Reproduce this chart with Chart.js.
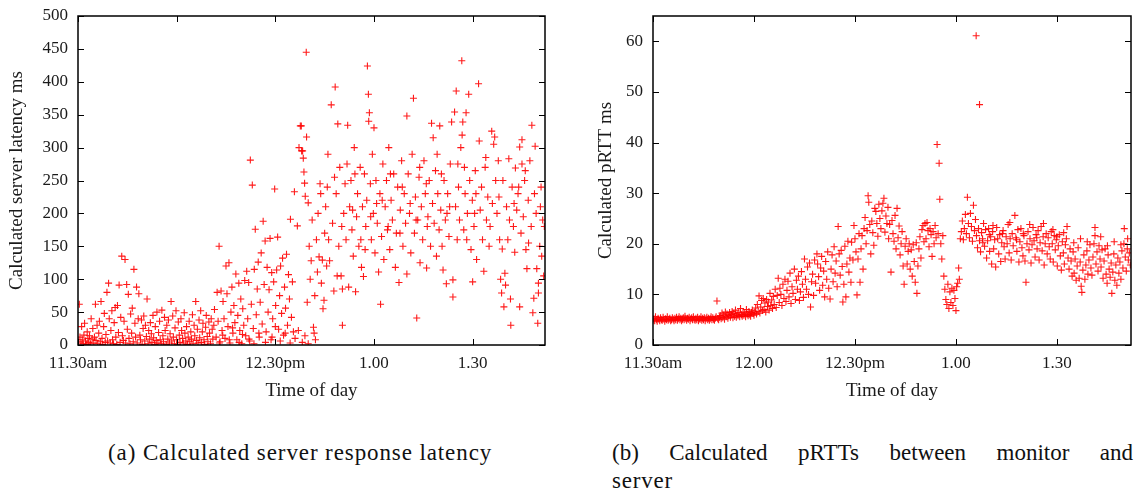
<!DOCTYPE html>
<html>
<head>
<meta charset="utf-8">
<script src="https://cdn.jsdelivr.net/npm/chart.js@4.4.1/dist/chart.umd.min.js"></script>
<style>
  body { margin: 0; background: #fff; width: 1141px; height: 494px; position: relative; overflow: hidden; }
  canvas { position: absolute; top: 0; }
  #leftChart { left: 0; }
  #rightChart { left: 580px; }
  .cap { position: absolute; font-family: "Liberation Serif", serif; font-size: 23px; color: #111; white-space: nowrap; }
  #capA { left: 108px; top: 440px; letter-spacing: 0.9px; }
  #capB1 { left: 612px; top: 440px; width: 521px; text-align: justify; text-align-last: justify; white-space: normal; }
  #capB2 { left: 612px; top: 468px; letter-spacing: 0.8px; }
</style>
</head>
<body>
<canvas id="leftChart" width="560" height="404"></canvas>
<canvas id="rightChart" width="561" height="404"></canvas>
<div class="cap" id="capA">(a) Calculated server response latency</div>
<div class="cap" id="capB1">(b) Calculated pRTTs between monitor and</div>
<div class="cap" id="capB2">server</div>
<script>
// minutes after 11.30am
const timeTickValues = [0, 30, 60, 90, 120];
const timeTickLabels = ['11.30am', '12.00', '12.30pm', '1.00', '1.30'];
const timeMax = 142;

// [minute, latency ms]
const latencyPoints = [
  [0.2,5],[0.4,62],[0.6,12],[0.9,3],[1.1,28],[1.3,8],[1.6,2],[1.8,15],[2.0,33],[2.3,6],[2.5,1],[2.8,20],
  [3.0,10],[3.3,4],[3.5,14],[3.8,2],[4.0,40],[4.3,9],[4.5,25],[4.8,3],[5.0,12],[5.3,62],[5.5,7],[5.8,30],
  [6.0,2],[6.3,18],[6.5,36],[6.8,5],[7.0,66],[7.3,10],[7.5,1],[7.8,28],[8.0,48],[8.3,4],[8.5,16],[8.8,80],
  [9.0,6],[9.3,94],[9.5,40],[9.8,3],[10.0,22],[10.3,52],[10.5,8],[10.8,2],[11.0,34],[11.3,57],[11.5,12],[11.8,1],
  [12.0,60],[12.3,19],[12.5,91],[12.8,4],[13.0,42],[13.3,135],[13.5,14],[13.8,7],[14.0,36],[14.3,130],[14.5,3],[14.8,92],
  [15.0,24],[15.3,77],[15.5,10],[15.8,2],[16.0,47],[16.3,18],[16.5,56],[16.8,5],[17.0,115],[17.3,33],[17.5,12],[17.8,88],
  [18.0,3],[18.3,40],[18.5,78],[18.8,15],[19.0,8],[19.3,38],[19.5,1],[19.8,25],[20.0,44],[20.3,6],[20.5,30],[20.8,13],
  [21.0,70],[21.3,2],[21.5,22],[21.8,9],[22.0,34],[22.3,17],[22.5,4],[22.8,45],[23.0,11],[23.3,1],[23.5,28],[23.8,7],
  [24.0,50],[24.3,3],[24.5,19],[24.8,36],[25.0,8],[25.3,2],[25.5,53],[25.8,14],[26.0,5],[26.3,42],[26.5,22],[26.8,1],
  [27.0,30],[27.3,9],[27.5,38],[27.8,3],[28.0,17],[28.3,66],[28.5,6],[28.8,44],[29.0,12],[29.3,2],[29.5,26],[29.8,52],
  [30.0,8],[30.3,1],[30.5,35],[30.8,15],[31.0,4],[31.3,40],[31.5,22],[31.8,10],[32.0,3],[32.3,49],[32.5,18],[32.8,6],
  [33.0,28],[33.3,1],[33.5,12],[33.8,36],[34.0,5],[34.3,20],[34.5,9],[34.8,46],[35.0,2],[35.3,30],[35.5,14],[35.8,66],
  [36.0,7],[36.3,24],[36.5,3],[36.8,38],[37.0,11],[37.3,52],[37.5,4],[37.8,20],[38.0,33],[38.3,8],[38.5,1],[38.8,27],
  [39.0,45],[39.3,13],[39.5,5],[39.8,35],[40.0,18],[40.3,2],[40.5,40],[40.8,24],[41.0,9],[41.3,30],[41.5,54],
  [42.0,12],[42.3,80],[42.6,36],[42.9,150],[43.2,5],[43.5,82],[43.8,22],[44.1,66],[44.4,40],[44.7,10],[45.0,120],[45.3,78],
  [45.6,28],[45.9,125],[46.2,3],[46.5,50],[46.8,88],[47.1,18],[47.4,60],[47.7,34],[48.0,108],[48.3,8],[48.6,45],[48.9,94],
  [49.2,22],[49.5,70],[49.8,2],[50.1,55],[50.4,30],[50.7,98],[51.0,14],[51.3,112],[51.6,40],[51.9,95],[52.2,6],[52.4,281],
  [52.7,62],[53.0,243],[53.3,25],[53.6,115],[53.9,176],[54.2,46],[54.5,85],[54.8,126],[55.1,12],[55.4,65],[55.7,140],[56.0,32],
  [56.3,188],[56.6,92],[56.9,158],[57.2,20],[57.5,118],[57.8,50],[58.1,84],[58.4,162],[58.7,8],[58.9,110],[59.2,40],[59.5,96],
  [59.8,237],[60.1,60],[60.4,114],[60.7,164],[61.0,24],[61.3,75],[61.6,120],[61.9,48],[62.2,132],[62.5,15],[62.8,88],[63.1,56],
  [63.4,138],[63.7,30],[64.0,107],[64.3,70],[64.6,191],[64.9,42],[65.2,96],[65.5,20],[65.8,233],
  [43.0,3],[44.0,15],[46.0,8],[47.0,26],[49.0,4],[50.0,16],[52.0,9],[53.5,2],[55.0,18],[57.0,4],[59.0,12],[60.0,28],
  [61.5,6],[63.0,18],[64.5,3],[66.0,10],[67.0,22],[68.2,4],[69.0,14],[70.0,2],
  [66.7,181],[67.2,300],[67.6,333],[67.9,333],[68.0,295],[68.3,295],[68.5,284],[68.7,263],[68.9,246],[69.1,226],[69.4,445],[69.5,316],
  [69.7,65],[70.0,216],[70.3,150],[70.6,100],[70.9,128],[71.2,190],[71.6,27],[71.8,18],[72.0,75],[72.2,8],[72.5,160],[72.8,111],
  [73.0,200],[73.3,134],[73.6,245],[74.0,94],[74.3,129],[74.5,55],[74.8,68],[75.0,170],[75.3,210],[75.6,120],[76.0,290],[76.5,128],
  [77.0,365],[77.4,185],[77.8,82],[78.2,392],[78.5,230],[78.8,105],[79.0,336],[79.3,150],[79.6,270],[80.0,105],[80.4,30],[80.4,85],
  [80.8,200],[81.2,245],[81.5,160],[82.0,334],[82.3,88],[82.6,210],[83.0,250],[83.3,175],[83.7,135],[84.0,300],[84.4,81],[84.7,195],
  [85.0,230],[85.4,150],[85.8,270],[86.2,118],[86.5,210],[86.8,104],[87.1,260],[87.5,180],[87.8,220],[88.0,424],[88.3,381],[88.4,340],
  [88.6,353],[88.9,245],[89.2,160],[89.5,290],[89.8,200],[90.0,330],[90.3,140],[90.6,250],[91.0,185],[91.4,111],[91.8,230],[92.0,62],
  [92.3,165],[92.7,275],[93.0,130],[93.4,210],[93.8,250],[94.1,175],[94.5,300],[94.8,145],[95.2,220],[95.6,190],[96.0,260],[96.5,118],
  [96.8,170],[97.2,240],[97.6,95],[98.0,205],[98.4,280],[98.8,150],[99.2,230],[99.6,185],[100.0,348],[100.0,108],[100.4,260],[100.8,200],
  [101.2,140],[101.6,290],[102.0,375],[102.3,170],[102.6,225],[103.0,41],[103.3,190],[103.7,255],[104.0,125],[104.4,210],[104.8,160],[105.2,280],
  [105.6,230],[106.0,117],[106.4,195],[106.8,250],[107.2,150],[107.5,337],[107.8,215],[108.0,315],[108.3,185],[108.7,265],[109.0,135],[109.4,230],
  [109.8,175],[110.0,333],[110.3,205],[110.7,150],[111.0,114],[111.3,250],[111.7,190],[112.0,93],[112.4,230],[112.8,165],[113.2,275],[113.6,339],
  [114.0,73],[114.0,99],[114.5,354],[114.8,210],[115.0,386],[115.3,160],[115.7,240],[116.0,190],[116.4,300],[116.7,432],[116.8,319],[117.0,339],
  [117.3,175],[117.7,230],[118.0,353],[118.4,200],[118.8,381],[119.1,250],[119.5,145],[119.9,220],[120.0,96],[120.4,180],[120.8,265],[121.2,130],
  [121.8,397],[122.0,310],[122.3,205],[122.7,240],[123.0,160],[123.4,112],[123.8,270],[124.2,190],[124.6,225],[125.0,150],[125.8,325],[126.4,305],
  [126.7,316],[127.0,250],[127.4,200],[127.8,280],[128.2,160],[128.5,100],[128.8,79],[129.0,146],[129.5,58],[129.8,109],[130.0,91],[130.3,210],
  [130.7,160],[131.0,283],[131.5,70],[131.6,30],[132.0,240],[132.4,180],[132.8,141],[133.0,269],[133.4,205],[133.8,230],[134.3,58],[134.3,301],
  [134.7,170],[135.0,312],[135.0,275],[135.4,195],[135.8,250],[136.2,145],[136.5,116],[136.9,220],[137.4,280],[137.8,180],[138.0,334],[138.3,49],
  [138.6,71],[139.0,302],[139.3,200],[139.5,116],[139.8,33],[140.0,79],[140.0,94],[140.4,150],[140.8,240],[141.0,135],[141.3,190],[141.6,105],
  [73.8,230],[76.2,160],[78.0,255],[81.8,275],[83.5,205],[86.0,160],[89.0,195],[92.5,220],[95.0,260],[97.9,170],[101.0,215],[103.9,270],
  [106.2,180],[109.2,290],[112.2,200],[115.5,275],[118.2,160],[121.0,230],[124.0,285],[126.0,215],[129.2,250],[132.6,215],[136.0,265],[138.8,230],
  [141.8,180],[75.8,240],[80.2,180],[84.2,260],[87.3,145],[90.8,215],[94.3,180],[98.6,240],[102.8,190],[105.9,245],[110.5,260],[113.0,210],
  [117.5,270],[120.6,200],[125.3,180],[128.0,225],[131.2,190],[134.0,240],[137.0,155],[140.6,210]
];

// [minute, pRTT ms]
const prttPoints = [
  [0.0,4.9],[0.25,5.2],[0.5,4.8],[0.75,5.6],[1.0,5.0],[1.25,4.7],[1.5,5.3],[1.75,5.1],[2.0,4.8],[2.25,5.4],[2.5,5.0],[2.75,4.9],
  [3.0,5.5],[3.25,5.1],[3.5,4.7],[3.75,5.2],[4.0,5.0],[4.25,5.6],[4.5,4.9],[4.75,5.1],[5.0,5.3],[5.25,4.8],[5.5,5.0],[5.75,5.4],
  [6.0,5.1],[6.25,4.8],[6.5,5.3],[6.75,5.0],[7.0,5.5],[7.25,4.9],[7.5,5.2],[7.75,5.6],[8.0,5.0],[8.25,5.3],[8.5,4.8],[8.75,5.1],
  [9.0,5.4],[9.25,5.0],[9.5,5.7],[9.75,5.2],[10.0,4.9],[10.25,5.3],[10.5,5.1],[10.75,5.5],[11.0,4.8],[11.25,5.2],[11.5,5.4],[11.75,5.0],
  [12.0,5.6],[12.25,5.1],[12.5,4.9],[12.75,5.3],[13.0,5.0],[13.25,5.5],[13.5,4.8],[13.75,5.2],[14.0,5.1],[14.25,5.6],[14.5,4.9],[14.75,5.3],
  [15.0,5.0],[15.25,5.4],[15.5,4.8],[15.75,5.2],[16.0,5.5],[16.25,5.0],[16.5,5.3],[16.75,4.9],[17.0,5.2],[17.25,5.6],[17.5,5.0],[17.75,5.4],
  [18.0,5.1],[18.25,4.9],[18.5,5.3],[18.75,5.6],[19.0,8.7],[19.25,5.2],[19.5,5.0],[19.75,5.5],[20.0,5.8],[20.25,5.2],[20.5,6.3],[20.75,5.4],
  [21.0,5.9],[21.25,5.1],[21.5,6.5],[21.75,5.6],[22.0,6.1],[22.25,5.3],[22.5,5.8],[22.75,6.4],[23.0,5.5],[23.25,6.0],[23.5,6.6],[23.75,5.4],
  [24.0,6.2],[24.25,5.7],[24.5,6.9],[24.75,5.5],[25.0,6.1],[25.25,5.8],[25.5,6.4],[25.75,5.6],[26.0,7.2],[26.25,6.0],[26.5,5.7],[26.75,6.5],
  [27.0,5.9],[27.25,6.3],[27.5,5.6],[27.75,7.0],[28.0,6.1],[28.25,5.8],[28.5,6.6],[28.75,6.0],[29.0,5.7],[29.25,6.4],[29.5,6.9],[29.75,6.2],
  [30.0,5.9],[30.25,6.5],[30.5,7.3],[30.75,6.1],[31.0,8.0],[31.25,6.6],[31.5,9.7],[31.75,6.3],[32.0,7.5],[32.25,8.8],[32.5,6.8],[32.75,9.2],
  [33.0,7.0],[33.25,8.3],[33.5,6.5],[33.75,9.0],[34.0,7.6],[34.25,8.5],[34.5,6.9],[34.75,10.2],[35.0,7.8],[35.25,8.9],[35.5,7.2],[35.75,9.6],
  [36.0,8.0],[36.3,11.0],[36.6,7.4],[36.9,9.8],[37.2,13.2],[37.5,8.4],[37.7,11.2],[38.0,10.0],[38.3,7.8],[38.6,12.0],[38.9,9.2],[39.2,13.0],
  [39.5,8.6],[39.8,10.8],[40.1,12.6],[40.4,9.5],[40.7,14.2],[41.0,8.2],[41.3,11.5],[41.6,10.2],[42.0,15.0],[42.3,9.0],[42.6,12.8],[42.9,11.0],
  [43.2,13.6],[43.5,8.8],[43.8,10.5],[44.1,14.5],[44.4,12.0],[44.7,9.4],[45.0,17.0],[45.3,13.0],[45.6,11.0],[45.9,15.4],[46.2,10.0],[46.5,16.2],
  [46.8,7.5],[47.1,12.5],[47.4,14.0],[47.7,9.8],[48.0,16.8],[48.3,12.2],[48.7,18.0],[48.9,16.0],[49.2,13.5],[49.5,10.8],[49.8,15.2],[50.1,17.5],
  [50.4,11.8],[50.7,14.6],[51.0,9.5],[51.3,16.5],[51.6,13.0],[51.9,18.4],[52.2,11.2],[52.6,9.1],[52.9,15.0],[53.2,17.8],[53.5,12.5],[53.8,19.4],
  [54.1,14.2],[54.4,16.6],[54.7,11.5],[55.0,23.4],[55.3,18.0],[55.6,13.8],[55.9,18.7],[56.2,15.5],[56.4,8.5],[56.7,12.0],[57.0,19.5],[57.3,9.5],
  [57.6,16.0],[57.9,20.5],[58.2,14.4],[58.5,17.2],[58.8,12.4],[59.0,20.3],[59.4,16.8],[59.7,23.6],[60.0,21.0],[60.3,18.4],[60.6,9.9],[60.9,17.0],
  [61.2,22.0],[61.5,12.4],[61.8,19.0],[62.1,21.6],[62.4,15.0],[62.7,23.0],[63.0,25.2],[63.3,20.0],[63.6,22.6],[63.9,29.5],[64.1,28.2],[64.4,23.8],
  [64.7,18.0],[65.0,24.5],[65.3,22.2],[65.6,19.7],[65.9,27.0],[66.2,26.4],[66.5,24.0],[66.8,21.5],[67.1,27.8],[67.4,25.0],[67.7,23.0],[68.0,26.5],
  [68.3,28.0],[68.6,29.0],[68.9,22.3],[69.2,25.5],[69.5,24.0],[69.8,27.2],[70.0,21.0],[70.3,23.8],[70.7,14.4],[71.0,24.6],
  [71.3,22.0],[71.6,20.5],[71.9,25.6],[72.2,19.0],[72.5,27.0],[72.8,21.2],[73.1,23.5],[73.4,17.8],[73.7,20.0],[74.0,22.4],[74.3,15.6],[74.6,12.0],
  [74.9,19.5],[75.2,21.0],[75.5,16.0],[75.8,18.5],[76.1,20.0],[76.4,15.0],[76.7,18.8],[77.0,13.6],[77.3,19.8],[77.6,16.5],[77.9,12.4],[78.2,20.2],
  [78.4,10.2],[78.7,15.6],[79.0,19.0],[79.3,21.4],[79.6,17.2],[79.9,22.8],[80.2,23.6],[80.5,20.4],[80.8,24.0],[81.1,21.0],[81.4,24.2],[81.7,22.6],
  [82.0,19.4],[82.3,23.0],[82.6,21.8],[82.9,17.5],[83.2,22.4],[83.5,20.0],[83.8,23.6],[84.1,21.2],[84.4,39.6],[84.7,22.0],[85.0,35.9],[85.2,28.8],
  [85.5,20.0],[85.8,17.0],[86.1,21.6],[86.4,13.6],[86.7,11.0],[87.0,9.0],[87.3,8.0],[87.6,12.0],[87.9,7.2],[88.2,10.5],[88.5,8.4],[88.8,11.2],
  [89.1,7.8],[89.4,10.8],[89.7,9.2],[90.0,6.8],[90.2,11.5],[90.5,12.2],[90.8,15.2],[91.0,13.0],[91.3,21.0],[91.6,22.4],[91.9,24.5],[92.2,20.8],
  [92.5,23.0],[92.8,25.8],[93.1,22.0],[93.4,29.2],[93.7,24.0],[94.0,21.2],[94.3,26.0],[94.6,23.4],[94.9,20.5],[95.2,27.6],[95.5,22.6],[95.8,24.8],
  [96.0,61.1],[96.1,21.6],[96.4,19.2],[96.7,23.0],[97.0,47.5],[97.0,20.6],[97.3,18.4],[97.6,22.2],
  [97.9,21.0],[98.2,24.0],[98.5,19.5],[98.8,22.8],[99.1,17.2],[99.4,20.6],[99.7,23.0],[100.0,18.5],[100.3,21.4],[100.6,16.0],[100.9,22.4],[101.2,19.0],
  [101.5,20.8],[101.8,15.4],[102.1,23.2],[102.4,21.0],[102.7,18.0],[103.0,21.8],[103.3,16.5],[103.6,20.2],[104.0,22.6],[104.3,19.4],[104.6,17.0],[104.9,21.4],
  [105.2,20.0],[105.5,23.8],[105.8,18.2],[106.1,21.0],[106.4,16.8],[106.7,22.0],[107.0,19.6],[107.5,25.6],[107.8,21.2],[108.1,18.5],[108.4,22.8],[108.7,16.4],
  [109.0,20.4],[109.3,23.0],[109.6,19.2],[109.9,17.6],[110.2,21.6],[110.5,16.6],[110.8,12.4],[111.1,20.0],[111.4,22.4],[111.7,18.8],[112.0,21.0],[112.3,16.2],
  [112.6,19.8],[112.9,23.2],[113.2,20.6],[113.5,17.4],[113.8,21.8],[114.1,19.0],[114.4,22.6],[114.7,16.8],[115.0,20.2],[115.3,23.4],[115.6,18.6],[115.9,21.4],
  [116.2,15.8],[116.5,20.0],[116.8,22.0],[117.1,18.0],[117.4,21.2],[117.7,19.4],[118.0,17.0],[118.3,22.4],[118.6,20.0],[118.9,16.4],[119.2,21.6],[119.5,18.8],
  [119.8,20.8],[120.1,15.6],[120.4,19.6],[120.7,21.8],[121.0,17.6],[121.3,14.8],[121.6,20.4],[121.9,18.2],[122.2,16.0],[122.5,19.8],[122.8,21.0],[123.0,23.4],
  [123.3,17.2],[123.6,15.0],[123.9,19.0],[124.2,16.6],[124.5,13.6],[124.8,18.4],[125.1,14.2],[125.4,17.0],[125.7,12.8],[126.0,15.6],[126.3,19.2],[126.6,13.2],
  [126.9,16.4],[127.2,11.6],[127.4,10.4],[127.7,14.8],[128.0,17.8],[128.3,13.0],[128.6,15.8],[128.9,18.6],[129.2,14.0],[129.5,16.8],[129.8,19.8],[130.1,15.2],
  [130.4,13.8],[130.7,17.4],[131.0,20.0],[131.3,23.2],[131.3,21.6],[131.6,16.0],[131.9,18.4],[132.2,14.6],[132.5,19.6],[132.8,17.0],[133.1,15.4],[133.4,18.8],
  [133.7,13.2],[134.0,16.6],[134.3,19.0],[134.6,14.0],[134.9,12.2],[135.2,17.8],[135.5,15.0],[135.8,13.4],[136.1,16.2],[136.3,10.2],[136.6,14.4],[136.9,18.0],
  [137.2,12.8],[137.5,15.8],[137.8,11.8],[138.1,17.2],[138.4,14.2],[138.7,16.4],[139.0,13.0],[139.3,18.6],[139.6,15.2],[139.9,20.0],[140.0,23.0],[140.3,17.4],
  [140.6,14.6],[140.9,19.0],[141.2,16.8],[141.5,18.2],[141.8,15.8],
  [98.0,20.2],[99.9,21.8],[101.0,23.6],[103.8,22.0],[106.0,24.2],[108.0,20.8],[110.0,22.0],[111.9,23.8],[114.0,21.2],[116.0,24.0],[118.8,22.8],[120.0,21.4],
  [122.0,22.2],[125.0,20.2],[127.0,21.0],[129.0,20.4],[133.0,21.4],[135.0,19.6],[137.0,20.4],[139.0,19.8],[141.0,21.0]
];

const FONT = 'Liberation Serif';

// gnuplot style frame with inward ticks on all four sides
const frameTicks = {
    id: 'frameTicks',
    afterDraw(chart) {
        const { ctx, chartArea: a, scales: { x, y } } = chart;
        ctx.save();
        ctx.strokeStyle = '#000';
        ctx.lineWidth = 1;
        ctx.beginPath();
        x.ticks.forEach(t => {
            const px = Math.round(x.getPixelForValue(t.value)) + 0.5;
            ctx.moveTo(px, a.bottom); ctx.lineTo(px, a.bottom - 6);
            ctx.moveTo(px, a.top); ctx.lineTo(px, a.top + 6);
        });
        y.ticks.forEach(t => {
            const py = Math.round(y.getPixelForValue(t.value)) + 0.5;
            ctx.moveTo(a.left, py); ctx.lineTo(a.left + 6, py);
            ctx.moveTo(a.right, py); ctx.lineTo(a.right - 6, py);
        });
        ctx.stroke();
        ctx.lineWidth = 1.5;
        ctx.strokeRect(a.left, a.top, a.right - a.left, a.bottom - a.top);
        ctx.restore();
    }
};

function makeChart(id, points, yMax, yStep, yTitle, yWidth, yTitleTop, rightPad) {
    const ctx = document.getElementById(id).getContext('2d');
    return new Chart(ctx, {
        type: 'scatter',
        data: {
            datasets: [{
                data: points.map(p => ({ x: p[0], y: p[1] })),
                pointStyle: 'cross',
                pointRadius: 3.5,
                pointBorderWidth: 1.1,
                borderColor: 'rgba(255, 0, 0, 0.9)',
                backgroundColor: 'rgba(255, 0, 0, 0.9)'
            }]
        },
        options: {
            responsive: false,
            animation: false,
            devicePixelRatio: 1,
            layout: { padding: { top: 16, right: rightPad, left: 0, bottom: 0 } },
            plugins: { legend: { display: false }, tooltip: { enabled: false } },
            scales: {
                x: {
                    type: 'linear',
                    min: 0,
                    max: timeMax,
                    afterBuildTicks: s => { s.ticks = timeTickValues.map(v => ({ value: v })); },
                    afterFit: s => { s.height = 59; s.paddingLeft = 0; s.paddingRight = 0; },
                    grid: { display: false, drawTicks: false },
                    border: { display: false },
                    ticks: {
                        padding: 8,
                        color: '#1a1a1a',
                        font: { family: FONT, size: 17 },
                        callback: v => timeTickLabels[timeTickValues.indexOf(v)]
                    },
                    title: {
                        display: true,
                        text: 'Time of day',
                        color: '#1a1a1a',
                        font: { family: FONT, size: 19 },
                        padding: { top: 4, bottom: 2 }
                    }
                },
                y: {
                    min: 0,
                    max: yMax,
                    afterBuildTicks: s => { s.ticks = s.ticks.filter(t => t.value % yStep === 0); },
                    afterFit: s => { s.width = yWidth; s.paddingTop = 0; s.paddingBottom = 0; },
                    grid: { display: false, drawTicks: false },
                    border: { display: false },
                    ticks: {
                        stepSize: yStep,
                        padding: 10,
                        color: '#1a1a1a',
                        font: { family: FONT, size: 17 }
                    },
                    title: {
                        display: true,
                        text: yTitle,
                        color: '#1a1a1a',
                        font: { family: FONT, size: 19 },
                        padding: { top: yTitleTop, bottom: 4 }
                    }
                }
            }
        },
        plugins: [frameTicks]
    });
}

makeChart('leftChart', latencyPoints, 500, 50, 'Calculated server latency ms', 78, 6, 15);
makeChart('rightChart', prttPoints, 65, 10, 'Calculated pRTT ms', 73, 15, 10);
</script>
</body>
</html>
